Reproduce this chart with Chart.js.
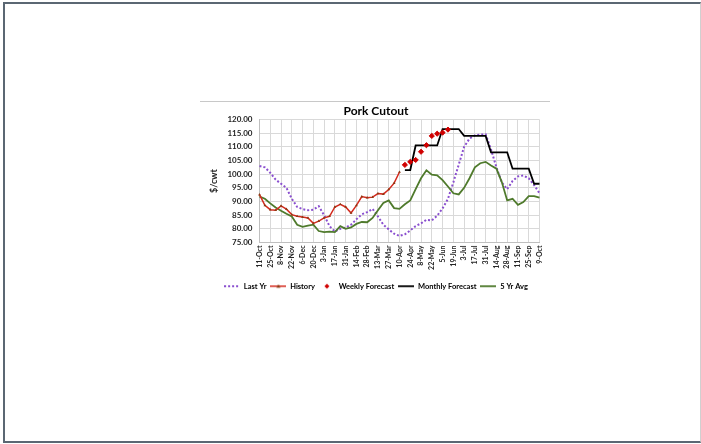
<!DOCTYPE html>
<html><head><meta charset="utf-8">
<script src="https://cdn.jsdelivr.net/npm/chart.js@4.4.0/dist/chart.umd.min.js"></script>
<style>
html,body{margin:0;padding:0;background:#fff;width:701px;height:444px;overflow:hidden;}
#frame{position:absolute;left:3px;top:2px;width:695px;height:437px;border-left:2px solid #5b6773;border-top:2px solid #5b6773;border-bottom:2px solid #5b6773;border-right:1px solid #d0d0d0;}
#rule{position:absolute;left:200px;top:101px;width:350px;height:1px;background:#c8c8c8;}
#box{position:absolute;left:180px;top:103px;width:392px;height:197px;}
</style></head>
<body>
<div id="frame"></div>
<div id="rule"></div>
<div id="box"><canvas id="c" width="392" height="197"></canvas></div>
<script>
const weekLabels = ['11-Oct','18-Oct','25-Oct','1-Nov','8-Nov','15-Nov','22-Nov','29-Nov','6-Dec','13-Dec','20-Dec','27-Dec','3-Jan','10-Jan','17-Jan','24-Jan','31-Jan','7-Feb','14-Feb','21-Feb','28-Feb','6-Mar','13-Mar','20-Mar','27-Mar','3-Apr','10-Apr','17-Apr','24-Apr','1-May','8-May','15-May','22-May','29-May','5-Jun','12-Jun','19-Jun','26-Jun','3-Jul','10-Jul','17-Jul','24-Jul','31-Jul','7-Aug','14-Aug','21-Aug','28-Aug','4-Sep','11-Sep','18-Sep','25-Sep','2-Oct','9-Oct'];

const lastYr = [103,102.5,100.5,98,96.5,95,91,88,87.2,86.8,87,88.3,85,81,79,80,80.5,81.5,83.5,85.3,86.1,87.3,84.5,81.5,79.8,78.2,77.4,78,79.4,81,82,83.3,83.1,84.8,87.5,91,97,103.5,110,113,114.2,114.5,114.6,109,102.5,97,94.5,97.5,99.2,99.5,98.5,96,93];

const history = [92.5,88.6,87,86.8,88.4,87.2,85.2,84.6,84.3,84,82,82.8,84,84.6,88,89,88,85.8,88.6,91.8,91.4,91.6,92.9,92.7,94.4,96.7,100.8,
  null,null,null,null,null,null,null,null,null,null,null,null,null,null,null,null,null,null,null,null,null,null,null,null,null,null];

const weeklyForecast = [null,null,null,null,null,null,null,null,null,null,null,null,null,null,null,null,null,null,null,null,null,null,null,null,null,null,null,
  103.4,104.5,105.2,108.2,110.6,114,114.8,115.2,116.3,
  null,null,null,null,null,null,null,null,null,null,null,null,null,null,null,null,null];

const monthlyForecast = [null,null,null,null,null,null,null,null,null,null,null,null,null,null,null,null,null,null,null,null,null,null,null,null,null,null,null,
  101.5,101.5,110.5,110.5,110.5,110.5,110.5,116.5,116.5,116.5,116.5,114,114,114,114,114,108,108,108,108,102,102,102,102,96.5,96.5];

const fiveYrAvg = [91.8,91,89.3,87.8,86.6,85.5,84.5,81.5,80.7,81.2,81.5,79.2,78.8,79,78.8,81,80,80.5,81.8,82.5,82.4,84,86.8,89.5,90.4,87.6,87.3,89,90.4,94.5,98.5,101.4,99.8,99.6,97.8,95.5,93,92.6,95,98.5,102.5,104,104.5,103.2,102,97.1,90.4,91,88.8,89.8,92,92,91.4];

const yMin = 75, yMax = 120, yStep = 5;

const C = {last:'#8a4fcf', hist:'#d42a1e', histPt:'#8a3b12', weekly:'#d00000', monthly:'#000000', avg:'#4f7a2c'};
const FONT = 'Lato, "Open Sans", sans-serif';

function sample(draw){
  const cv = document.createElement('canvas');
  cv.width = 16; cv.height = 8;
  const g = cv.getContext('2d');
  draw(g);
  return cv;
}
const legendImgs = [
  sample(g=>{g.strokeStyle=C.last;g.lineWidth=2;g.setLineDash([2,2]);g.beginPath();g.moveTo(0,4);g.lineTo(16,4);g.stroke();}),
  sample(g=>{g.strokeStyle=C.hist;g.lineWidth=1.5;g.beginPath();g.moveTo(0,4);g.lineTo(16,4);g.stroke();g.fillStyle=C.histPt;g.beginPath();g.moveTo(8,2);g.lineTo(10,5.5);g.lineTo(6,5.5);g.closePath();g.fill();}),
  sample(g=>{g.fillStyle=C.weekly;g.beginPath();g.moveTo(8,1.5);g.lineTo(10.5,4);g.lineTo(8,6.5);g.lineTo(5.5,4);g.closePath();g.fill();}),
  sample(g=>{g.strokeStyle=C.monthly;g.lineWidth=1.8;g.beginPath();g.moveTo(0,4);g.lineTo(16,4);g.stroke();}),
  sample(g=>{g.strokeStyle=C.avg;g.lineWidth=1.8;g.beginPath();g.moveTo(0,4);g.lineTo(16,4);g.stroke();})
];

new Chart(document.getElementById('c'), {
  type: 'line',
  data: {
    labels: weekLabels,
    datasets: [
      {label:'Last Yr', data:lastYr, borderColor:C.last, borderWidth:2, borderDash:[2,2], pointRadius:0, order:5},
      {label:'History', data:history, borderColor:C.hist, borderWidth:1.5, pointStyle:'triangle', pointRadius:1.6, pointBackgroundColor:C.histPt, pointBorderColor:C.histPt, pointBorderWidth:0, order:2},
      {label:'Weekly Forecast', data:weeklyForecast, showLine:false, pointStyle:'rectRot', pointRadius:2.6, pointBackgroundColor:C.weekly, pointBorderColor:C.weekly, borderColor:C.weekly, order:1},
      {label:'Monthly Forecast', data:monthlyForecast, borderColor:C.monthly, borderWidth:1.8, pointRadius:0, order:3},
      {label:'5 Yr Avg', data:fiveYrAvg, borderColor:C.avg, borderWidth:1.8, pointRadius:0, order:4}
    ]
  },
  options: {
    responsive:false, animation:false, devicePixelRatio:1,
    layout:{padding:0},
    elements:{line:{tension:0}},
    plugins:{
      tooltip:{enabled:false},
      title:{display:true, text:'Pork Cutout', color:'#000', font:{family:FONT, size:12, weight:'bold'}, padding:{top:0.5,bottom:1.6}},
      legend:{position:'bottom', labels:{
        usePointStyle:true, pointStyleWidth:16, boxHeight:6, padding:4,
        color:'#262626', font:{family:FONT, size:7.5, weight:'bold'},
        generateLabels:(chart)=>chart.data.datasets.map((d,i)=>({text:d.label, pointStyle:legendImgs[i], datasetIndex:i, fillStyle:'rgba(0,0,0,0)', strokeStyle:'rgba(0,0,0,0)', lineWidth:0, hidden:false}))
      }}
    },
    scales:{
      x:{
        type:'category', offset:false,
        grid:{color:(c)=> (c.index%2===0 ? '#d9d9d9' : 'rgba(0,0,0,0)'), drawTicks:false, lineWidth:1},
        border:{color:'#bfbfbf'},
        ticks:{autoSkip:false, maxRotation:90, minRotation:90, padding:3, color:'#262626',
          font:{family:FONT, size:7, weight:'bold'},
          callback:function(v,i){ return i%2===0 ? this.getLabelForValue(v) : ''; }},
        afterFit:(s)=>{ s.height = 36; }
      },
      y:{
        min:yMin, max:yMax,
        grid:{color:'#d9d9d9', drawTicks:false},
        border:{color:'#bfbfbf'},
        ticks:{stepSize:yStep, autoSkip:false, padding:7, color:'#262626', font:{family:FONT, size:8, weight:'bold'}, callback:(v)=>Number(v).toFixed(2)},
        title:{display:true, text:'$/cwt', color:'#262626', font:{family:FONT, size:9, weight:'bold'}, padding:{top:28.6,bottom:0}},
        afterFit:(s)=>{ s.width = 79.5; }
      },
      yPad:{
        position:'right', display:true,
        grid:{display:false, drawTicks:false}, border:{display:false},
        ticks:{display:false},
        afterFit:(s)=>{ s.width = 32.5; }
      }
    }
  }
});
</script>
</body></html>
